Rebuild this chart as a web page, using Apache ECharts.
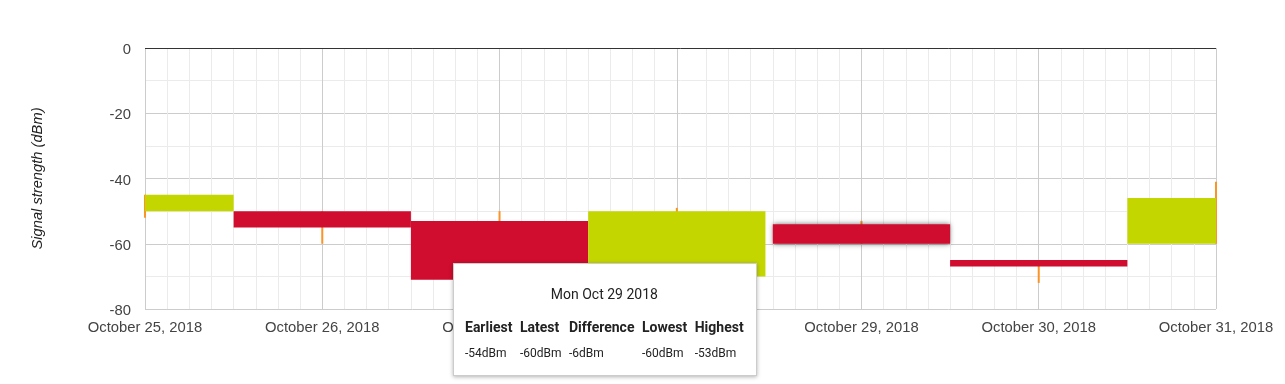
<!DOCTYPE html>
<html>
<head>
<meta charset="utf-8">
<script src="https://cdn.jsdelivr.net/npm/echarts@6/dist/echarts.min.js"></script>
<style>
html,body{margin:0;padding:0;background:#fff;}
#c{width:1285px;height:384px;}
</style>
</head>
<body>
<div id="c"></div>
<script>
// ---- data ----
var dayDates  = ['2018-10-25','2018-10-26','2018-10-27','2018-10-28','2018-10-29','2018-10-30','2018-10-31'];
var dayLabels = ['October 25, 2018','October 26, 2018','October 27, 2018','October 28, 2018','October 29, 2018','October 30, 2018','October 31, 2018'];
// real hours elapsed since Oct 25 00:00 local time (Oct 28 lasts 25 h: DST end)
var dayHours  = [0, 24, 48, 72, 97, 121, 145];
var openVals  = [-50, -50, -53, -70, -54, -65, -60];
var closeVals = [-45, -55, -71, -50, -60, -67, -46];
var lowVals   = [-52, -60, -71, -70, -60, -72, -60];
var highVals  = [-45, -50, -50, -49, -53, -65, -41];
var yMin = -80, yMax = 0, yStep = 20;
var tooltipIndex = 4;

var GREEN = '#c4d600', RED = '#d00c2f', ORANGE = '#fb9426';

// hourly categories for the x axis
var totalHours = dayHours[dayHours.length - 1];
var hourCats = [];
for (var i = 0; i <= totalHours; i++) hourCats.push(String(i));
var labelByHour = {};
dayHours.forEach(function (h, k) { labelByHour[h] = dayLabels[k]; });
// minor grid every 3 local hours (counted back from the next midnight)
var minorHours = {};
for (var k = 0; k < dayHours.length - 1; k++) {
  for (var m = 1; m <= 7; m++) minorHours[dayHours[k + 1] - 3 * m] = true;
}

var seriesData = dayHours.map(function (h, k) {
  return [h, openVals[k], closeVals[k], lowVals[k], highVals[k]];
});

function renderItem(params, api) {
  var h = api.value(0);
  var o = api.value(1), c = api.value(2), lo = api.value(3), hi = api.value(4);
  var pL = api.coord([h, lo]), pH = api.coord([h, hi]);
  var left = api.coord([h - 12, o])[0];
  var right = api.coord([h + 12, o])[0];
  var yo = api.coord([h, o])[1], yc = api.coord([h, c])[1];
  var cs = params.coordSys;
  var rect = echarts.graphic.clipRectByRect(
    { x: left, y: Math.min(yo, yc), width: right - left, height: Math.abs(yo - yc) },
    { x: cs.x, y: cs.y, width: cs.width, height: cs.height }
  );
  var fill = c >= o ? GREEN : RED;
  return {
    type: 'group',
    children: [
      { type: 'line', shape: { x1: pL[0], y1: pL[1], x2: pH[0], y2: pH[1] },
        style: { stroke: ORANGE, lineWidth: 2 },
        emphasis: { style: { stroke: ORANGE, lineWidth: 2 } } },
      { type: 'rect', shape: rect,
        style: { fill: fill },
        emphasis: { style: { fill: fill, shadowBlur: 5, shadowColor: 'rgba(0,0,0,0.55)' } } }
    ]
  };
}

var WD = ['Sun','Mon','Tue','Wed','Thu','Fri','Sat'];
var MO = ['Jan','Feb','Mar','Apr','May','Jun','Jul','Aug','Sep','Oct','Nov','Dec'];
function titleOf(s) {
  var p = s.split('-');
  var d = new Date(Date.UTC(+p[0], +p[1] - 1, +p[2]));
  return WD[d.getUTCDay()] + ' ' + MO[d.getUTCMonth()] + ' ' + p[2] + ' ' + p[0];
}

var chart = echarts.init(document.getElementById('c'), null, { renderer: 'canvas' });
var axisFont = "Arial, 'Liberation Sans', sans-serif";

chart.setOption({
  animation: false,
  grid: { left: 145, right: 69, top: 48, bottom: 75 },
  tooltip: {
    trigger: 'item',
    triggerOn: 'none',
    alwaysShowContent: true,
    transitionDuration: 0,
    position: [453, 263],
    padding: [12, 12, 12, 11],
    backgroundColor: '#fff',
    borderColor: '#cccccc',
    borderWidth: 1,
    extraCssText: 'border-radius:0;box-shadow:0 1px 4px rgba(0,0,0,0.3);',
    formatter: function (p) {
      var k = p.dataIndex;
      var th = 'font-weight:bold;font-size:14px;line-height:20px;padding:0 7.5px 0 0;text-align:left;white-space:nowrap;';
      var td = 'font-size:12px;line-height:20px;padding:6px 7.5px 0 0;text-align:left;white-space:nowrap;';
      var vals = [openVals[k], closeVals[k], closeVals[k] - openVals[k], lowVals[k], highVals[k]];
      var heads = ['Earliest', 'Latest', 'Difference', 'Lowest', 'Highest'];
      var h1 = '', h2 = '';
      for (var j = 0; j < 5; j++) {
        var last = j === 4 ? 'padding-right:0;' : '';
        h1 += '<th style="' + th + last + '">' + heads[j] + '</th>';
        h2 += '<td style="' + td + last + '">' + vals[j] + 'dBm</td>';
      }
      return '<div style="font-family:Roboto,sans-serif;color:#222;">' +
        '<div style="text-align:center;font-size:14px;line-height:20px;margin:8px 0 13px 0;">' + titleOf(dayDates[k]) + '</div>' +
        '<table style="border-collapse:collapse;border-spacing:0;"><tr>' + h1 + '</tr><tr>' + h2 + '</tr></table></div>';
    }
  },
  xAxis: [
    {
      type: 'category',
      data: hourCats,
      boundaryGap: false,
      position: 'bottom',
      axisLine: { show: false },
      axisTick: { show: false },
      axisLabel: {
        show: true,
        interval: function (idx) { return labelByHour[idx] !== undefined; },
        formatter: function (v, idx) { return labelByHour[idx] || ''; },
        color: '#444', fontSize: 14.8, fontFamily: axisFont, margin: 11
      },
      splitLine: {
        show: true,
        interval: function (idx) { return labelByHour[idx] !== undefined; },
        lineStyle: { color: '#cccccc', width: 1 }
      }
    },
    {
      type: 'category',
      data: hourCats,
      boundaryGap: false,
      position: 'bottom',
      axisLine: { show: false },
      axisTick: { show: false },
      axisLabel: { show: false },
      splitLine: {
        show: true,
        interval: function (idx) { return minorHours[idx] === true; },
        lineStyle: { color: '#ebebeb', width: 1 }
      }
    }
  ],
  yAxis: {
    type: 'value',
    min: yMin, max: yMax, interval: yStep,
    name: 'Signal strength (dBm)',
    nameLocation: 'middle',
    nameRotate: 90,
    nameGap: 100,
    nameTextStyle: { fontStyle: 'italic', fontSize: 14.7, color: '#222', fontFamily: axisFont },
    axisLine: { show: false },
    axisTick: { show: false },
    axisLabel: { color: '#444', fontSize: 14.8, fontFamily: axisFont, margin: 14, verticalAlign: 'top', lineHeight: 4 },
    splitLine: { show: true, lineStyle: { color: '#cccccc', width: 1 } },
    minorTick: { show: false, splitNumber: 2 },
    minorSplitLine: { show: true, lineStyle: { color: '#ebebeb', width: 1 } }
  },
  series: [{
    type: 'custom',
    xAxisIndex: 0,
    renderItem: renderItem,
    encode: { x: 0, y: [1, 2, 3, 4] },
    data: seriesData,
    emphasis: { focus: 'none' },
    z: 5,
    markLine: {
      silent: true,
      symbol: 'none',
      label: { show: false },
      lineStyle: { color: '#333333', width: 1, type: 'solid' },
      emphasis: { disabled: true },
      data: [{ yAxis: yMax }]
    }
  }]
});

chart.dispatchAction({ type: 'highlight', seriesIndex: 0, dataIndex: tooltipIndex });
chart.dispatchAction({ type: 'showTip', seriesIndex: 0, dataIndex: tooltipIndex });
</script>
</body>
</html>
